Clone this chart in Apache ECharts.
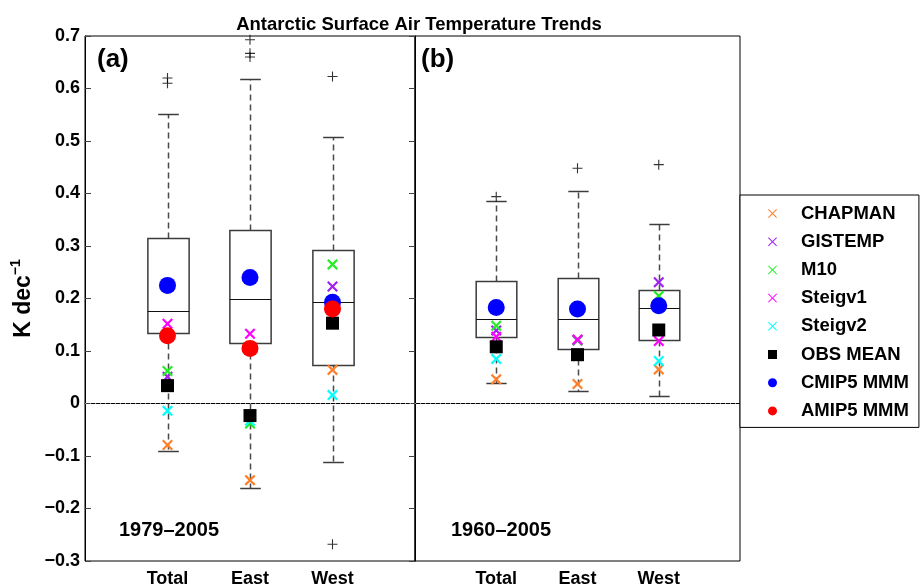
<!DOCTYPE html>
<html>
<head>
<meta charset="utf-8">
<script src="https://cdn.jsdelivr.net/npm/echarts@6/dist/echarts.min.js"></script>
<style>
  html, body { margin: 0; padding: 0; background: #fff; }
  #chart { width: 923px; height: 588px; }
</style>
</head>
<body>
<div id="chart"></div>
<script>
// Regions and their positions on each panel's x axis
const groups = ['Total', 'East', 'West'];
const groupPos = [1, 2, 3];

// Model spread, box stats per region: [lower whisker, Q1, median, Q3, upper whisker]
const boxA = [
  [-0.090, 0.134, 0.177, 0.315, 0.552],
  [-0.160, 0.116, 0.200, 0.330, 0.618],
  [-0.112, 0.073, 0.194, 0.292, 0.508]
];
const boxB = [
  [0.040, 0.127, 0.161, 0.234, 0.385],
  [0.024, 0.104, 0.161, 0.239, 0.405],
  [0.014, 0.121, 0.181, 0.216, 0.342]
];
// Outlying models per region
const outliersA = [[0.620, 0.610], [0.693, 0.667, 0.660], [0.623, -0.268]];
const outliersB = [[0.394], [0.448], [0.455]];

// Observational trends (K/decade), 1979-2005 (A) and 1960-2005 (B)
const chapmanA = [-0.079, -0.146, 0.064];
const chapmanB = [0.046, 0.037, 0.065];
const gistempA = [0.051, -0.025, 0.223];
const gistempB = [0.139, 0.120, 0.231];
const m10A = [0.062, -0.038, 0.265];
const m10B = [0.148, 0.121, 0.205];
const steigv1A = [0.152, 0.133, 0.185];
const steigv1B = [0.127, 0.122, 0.119];
const steigv2A = [-0.014, -0.033, 0.016];
const steigv2B = [0.085, 0.090, 0.081];
const obsMeanA = [0.034, -0.023, 0.153];
const obsMeanB = [0.108, 0.093, 0.140];
// Multi-model means
const cmip5A = [0.225, 0.240, 0.193];
const cmip5B = [0.183, 0.180, 0.186];
const amip5A = [0.129, 0.105, 0.180];

// Y axis range and step
const yMin = -0.3, yMax = 0.7, yStep = 0.1;

const FONT = 'Liberation Sans';
const X_BOLD = 'path://M1.4,0L5,3.6L8.6,0L10,1.4L6.4,5L10,8.6L8.6,10L5,6.4L1.4,10L0,8.6L3.6,5L0,1.4Z';
const X_THIN = 'path://M0.8,0L5,4.2L9.2,0L10,0.8L5.8,5L10,9.2L9.2,10L5,5.8L0.8,10L0,9.2L4.2,5L0,0.8Z';
const PLUS = 'path://M4.45,0H5.55V4.45H10V5.55H5.55V10H4.45V5.55H0V4.45H4.45Z';
const SQUARE = 'path://M0,0H10V10H0Z';

const COLORS = {
  CHAPMAN: '#ff7f2a',
  GISTEMP: '#a020f0',
  M10: '#22ee22',
  Steigv1: '#ff00ff',
  Steigv2: '#00ffff',
  'OBS MEAN': '#000000',
  'CMIP5 MMM': '#0000ff',
  'AMIP5 MMM': '#ff0000'
};

function toPoints(values) {
  return values.map((v, i) => [groupPos[i], v]);
}

function boxRender(params, api) {
  const x = api.value(0);
  const lo = api.coord([x, api.value(1)]);
  const q1 = api.coord([x, api.value(2)]);
  const md = api.coord([x, api.value(3)]);
  const q3 = api.coord([x, api.value(4)]);
  const hi = api.coord([x, api.value(5)]);
  const bw = api.size([0.5, 0])[0];
  const cw = bw / 2;
  const cx = Math.round(lo[0]) + 0.5;
  const edge = '#3c3c3c';
  const rnd = v => Math.round(v) + 0.5;
  return {
    type: 'group',
    children: [
      { type: 'line', shape: { x1: cx, y1: rnd(q3[1]), x2: cx, y2: rnd(hi[1]) },
        style: { stroke: '#4a4a4a', lineWidth: 1.5, lineDash: [6, 4] } },
      { type: 'line', shape: { x1: cx, y1: rnd(q1[1]), x2: cx, y2: rnd(lo[1]) },
        style: { stroke: '#4a4a4a', lineWidth: 1.5, lineDash: [6, 4] } },
      { type: 'line', shape: { x1: cx - cw / 2, y1: rnd(hi[1]), x2: cx + cw / 2, y2: rnd(hi[1]) },
        style: { stroke: edge, lineWidth: 1.5 } },
      { type: 'line', shape: { x1: cx - cw / 2, y1: rnd(lo[1]), x2: cx + cw / 2, y2: rnd(lo[1]) },
        style: { stroke: edge, lineWidth: 1.5 } },
      { type: 'rect', shape: { x: cx - bw / 2, y: rnd(q3[1]), width: bw, height: Math.round(q1[1]) - Math.round(q3[1]) },
        style: { fill: 'none', stroke: edge, lineWidth: 1.5 } },
      { type: 'line', shape: { x1: cx - bw / 2, y1: rnd(md[1]), x2: cx + bw / 2, y2: rnd(md[1]) },
        style: { stroke: '#111', lineWidth: 1.2 } }
    ]
  };
}

function boxSeries(box, idx) {
  return {
    type: 'custom',
    xAxisIndex: idx, yAxisIndex: idx,
    renderItem: boxRender,
    encode: { x: 0, y: [1, 2, 3, 4, 5] },
    data: box.map((b, i) => [groupPos[i]].concat(b)),
    z: 2,
    silent: true,
    markLine: {
      silent: true, symbol: 'none', label: { show: false },
      lineStyle: { type: [1, 4], color: '#999', width: 1 },
      data: [{ yAxis: 0 }]
    }
  };
}

function outlierSeries(outs, idx) {
  const data = [];
  outs.forEach((list, i) => list.forEach(v => data.push([groupPos[i], v])));
  return {
    type: 'scatter', xAxisIndex: idx, yAxisIndex: idx,
    symbol: PLUS, symbolSize: 10, silent: true, z: 3,
    itemStyle: { color: '#000' },
    data: data
  };
}

function markSeries(name, values, idx, symbol, size, z) {
  return {
    name: name, type: 'scatter', xAxisIndex: idx, yAxisIndex: idx,
    symbol: symbol, symbolSize: size, z: z, silent: true,
    itemStyle: { color: COLORS[name], opacity: 1 },
    data: toPoints(values)
  };
}

function xAxis(idx) {
  return {
    type: 'value', gridIndex: idx, min: 0, max: 4, interval: 1,
    axisLine: { show: true, lineStyle: { color: '#000', width: 1 } },
    axisTick: { show: false },
    splitLine: { show: false },
    axisLabel: {
      margin: 9, color: '#000', fontFamily: FONT, fontWeight: 'bold', fontSize: 18,
      formatter: v => (v >= 1 && v <= 3 ? groups[Math.round(v) - 1] : '')
    }
  };
}

function fmtY(v) {
  if (Math.abs(v) < 1e-9) return '0';
  return v.toFixed(1).replace('-', '\u2212');
}

const option = {
  animation: false,
  backgroundColor: '#fff',
  title: {
    text: 'Antarctic Surface Air Temperature Trends',
    left: 414, top: 10, textAlign: 'center',
    textStyle: { fontFamily: FONT, fontSize: 18.5, fontWeight: 'bold', color: '#000' }
  },
  grid: [
    { left: 85, top: 36, width: 330, height: 525, show: true, borderColor: '#000', borderWidth: 1, backgroundColor: 'transparent' },
    { left: 415, top: 36, width: 325, height: 525, show: true, borderColor: '#000', borderWidth: 1, backgroundColor: 'transparent' }
  ],
  xAxis: [xAxis(0), xAxis(1)],
  yAxis: [
    {
      type: 'value', gridIndex: 0, position: 'left',
      min: yMin, max: yMax, interval: yStep,
      name: '{k|K dec}{s|\u22121}', nameLocation: 'middle', nameGap: 50, nameRotate: 90,
      nameTextStyle: {
        rich: {
          k: { fontFamily: FONT, fontWeight: 'bold', fontSize: 23, color: '#000', lineHeight: 26, verticalAlign: 'bottom' },
          s: { fontFamily: FONT, fontWeight: 'bold', fontSize: 14, color: '#000', lineHeight: 26, verticalAlign: 'top' }
        }
      },
      axisLine: { show: true, lineStyle: { color: '#000' } },
      axisTick: { show: true, inside: true, length: 6, lineStyle: { color: '#444' } },
      splitLine: { show: false },
      axisLabel: { margin: 5, color: '#000', fontFamily: FONT, fontWeight: 'bold', fontSize: 18, formatter: fmtY }
    },
    {
      type: 'value', gridIndex: 1, position: 'right',
      min: yMin, max: yMax, interval: yStep,
      axisLine: { show: true, lineStyle: { color: '#000' } },
      axisTick: { show: true, inside: true, length: 6, lineStyle: { color: '#444' } },
      splitLine: { show: false },
      axisLabel: { show: false }
    }
  ],
  legend: {
    orient: 'vertical', left: 740, top: 195,
    padding: [4.5, 10, 2.5, 28],
    backgroundColor: '#fff', borderColor: '#000', borderWidth: 1,
    itemWidth: 47, itemHeight: 9, itemGap: 0.2,
    selectedMode: false,
    textStyle: { fontFamily: FONT, fontWeight: 'bold', fontSize: 18.5, color: '#000', lineHeight: 28 },
    data: [
      { name: 'CHAPMAN', icon: X_THIN },
      { name: 'GISTEMP', icon: X_THIN },
      { name: 'M10', icon: X_THIN },
      { name: 'Steigv1', icon: X_THIN },
      { name: 'Steigv2', icon: X_THIN },
      { name: 'OBS MEAN', icon: SQUARE },
      { name: 'CMIP5 MMM', icon: 'circle' },
      { name: 'AMIP5 MMM', icon: 'circle' }
    ]
  },
  graphic: [
    { type: 'text', x: 97, y: 60, style: { text: '(a)', fontFamily: FONT, fontWeight: 'bold', fontSize: 26, fill: '#000', verticalAlign: 'middle' } },
    { type: 'text', x: 421, y: 60, style: { text: '(b)', fontFamily: FONT, fontWeight: 'bold', fontSize: 26, fill: '#000', verticalAlign: 'middle' } },
    { type: 'text', x: 119, y: 530, style: { text: '1979\u20132005', fontFamily: FONT, fontWeight: 'bold', fontSize: 20, fill: '#000', verticalAlign: 'middle' } },
    { type: 'text', x: 451, y: 530, style: { text: '1960\u20132005', fontFamily: FONT, fontWeight: 'bold', fontSize: 20, fill: '#000', verticalAlign: 'middle' } }
  ],
  series: [
    boxSeries(boxA, 0),
    boxSeries(boxB, 1),
    outlierSeries(outliersA, 0),
    outlierSeries(outliersB, 1),
    markSeries('CHAPMAN', chapmanA, 0, X_BOLD, 11, 4),
    markSeries('CHAPMAN', chapmanB, 1, X_BOLD, 11, 4),
    markSeries('GISTEMP', gistempA, 0, X_BOLD, 11, 4),
    markSeries('GISTEMP', gistempB, 1, X_BOLD, 11, 4),
    markSeries('M10', m10A, 0, X_BOLD, 11, 4),
    markSeries('M10', m10B, 1, X_BOLD, 11, 4),
    markSeries('Steigv1', steigv1A, 0, X_BOLD, 11, 4),
    markSeries('Steigv1', steigv1B, 1, X_BOLD, 11, 4),
    markSeries('Steigv2', steigv2A, 0, X_BOLD, 11, 4),
    markSeries('Steigv2', steigv2B, 1, X_BOLD, 11, 4),
    markSeries('OBS MEAN', obsMeanA, 0, 'rect', 13, 5),
    markSeries('OBS MEAN', obsMeanB, 1, 'rect', 13, 5),
    markSeries('CMIP5 MMM', cmip5A, 0, 'circle', 17, 6),
    markSeries('CMIP5 MMM', cmip5B, 1, 'circle', 17, 6),
    markSeries('AMIP5 MMM', amip5A, 0, 'circle', 17, 7)
  ]
};

const chart = echarts.init(document.getElementById('chart'), null, { renderer: 'canvas' });
chart.setOption(option);
</script>
</body>
</html>
